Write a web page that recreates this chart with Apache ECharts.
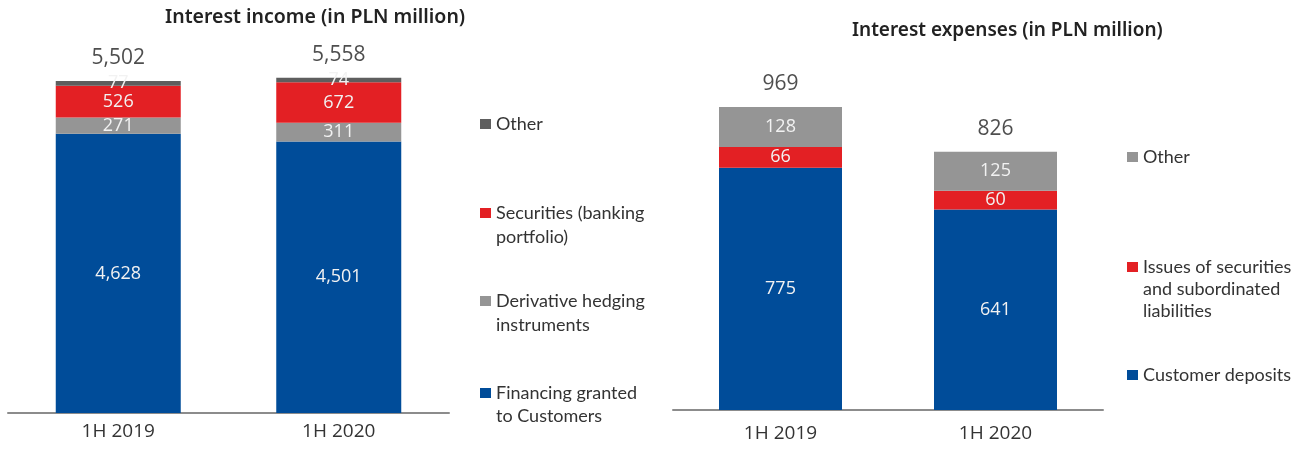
<!DOCTYPE html>
<html>
<head>
<meta charset="utf-8">
<script src="https://cdn.jsdelivr.net/npm/echarts@6/dist/echarts.min.js"></script>
<style>
  html, body { margin: 0; padding: 0; background: #fff; }
  #chart { width: 1304px; height: 450px; }
</style>
</head>
<body>
<div id="chart"></div>
<script>
// Interest income, PLN million
const incomeCategories = ['1H 2019', '1H 2020'];
const incomeFinancing = [4628, 4501];
const incomeDerivative = [271, 311];
const incomeSecurities = [526, 672];
const incomeOther = [77, 74];
const incomeTotal = [5502, 5558];

// Interest expenses, PLN million
const expenseCategories = ['1H 2019', '1H 2020'];
const expenseDeposits = [775, 641];
const expenseIssues = [66, 60];
const expenseOther = [128, 125];
const expenseTotal = [969, 826];

// Legend texts (line-broken as displayed)
const legendText = {
  incOther: 'Other',
  incSecurities: 'Securities (banking\nportfolio)',
  incDerivative: 'Derivative hedging\ninstruments',
  incFinancing: 'Financing granted\nto Customers',
  expOther: 'Other',
  expIssues: 'Issues of securities\nand subordinated\nliabilities',
  expDeposits: 'Customer deposits'
};

const BLUE = '#004c99';
const RED = '#e32024';
const GREY = '#959595';
const DARK = '#5e5e5e';
const NUM_FONT = '"Open Sans", "Noto Sans", sans-serif';
const TXT_FONT = 'Lato, "Noto Sans", sans-serif';
const TITLE_FONT = '"Noto Sans", sans-serif';

const fmt = v => v.toLocaleString('en-US');

function segment(name, data, color, gridIdx, width) {
  return {
    name: name,
    type: 'bar',
    stack: 'g' + gridIdx,
    xAxisIndex: gridIdx,
    yAxisIndex: gridIdx,
    barWidth: width,
    data: data,
    itemStyle: { color: color },
    label: {
      show: true,
      position: 'inside',
      color: '#f2f2f2',
      fontSize: 18,
      fontFamily: NUM_FONT,
      formatter: p => fmt(p.value)
    },
    emphasis: { disabled: true }
  };
}

function totals(data, gridIdx) {
  return {
    type: 'scatter',
    xAxisIndex: gridIdx,
    yAxisIndex: gridIdx,
    data: data,
    symbolSize: 1,
    itemStyle: { color: 'rgba(0,0,0,0)' },
    label: {
      show: true,
      position: 'top',
      distance: 12,
      color: '#222',
      fontSize: 21,
      fontFamily: NUM_FONT,
      formatter: p => fmt(p.value)
    },
    silent: true,
    z: 5
  };
}

// One legend box per entry. Blank lines are prepended so that the first
// text line sits level with the square marker.
function legendItem(name, left, yCenter, lineH) {
  const lines = legendText[name].split('\n').length;
  const prefix = '\n'.repeat(lines - 1);
  return {
    data: [name],
    left: left,
    top: yCenter - (2 * lines - 1) * lineH / 2,
    padding: 0,
    orient: 'vertical',
    icon: 'rect',
    itemWidth: 11,
    itemHeight: 10,
    selectedMode: false,
    formatter: n => prefix + legendText[n],
    textStyle: {
      color: '#333',
      fontSize: 18,
      fontFamily: TXT_FONT,
      lineHeight: lineH
    }
  };
}

const axisCommon = (gridIdx, data, margin) => ({
  type: 'category',
  gridIndex: gridIdx,
  data: data,
  axisLine: { lineStyle: { color: '#8c8c8c', width: 2 } },
  axisTick: { show: false },
  axisLabel: { color: '#333', fontSize: 19, fontFamily: NUM_FONT, margin: margin }
});

const chart = echarts.init(document.getElementById('chart'), null, { renderer: 'canvas' });
chart.setOption({
  animation: false,
  backgroundColor: '#fff',
  title: [
    {
      text: 'Interest income (in PLN million)',
      left: 165, top: 7, padding: 0,
      textStyle: { fontSize: 19.5, fontWeight: 600, color: '#222', fontFamily: TITLE_FONT }
    },
    {
      text: 'Interest expenses (in PLN million)',
      left: 852, top: 21, padding: 0,
      textStyle: { fontSize: 19, fontWeight: 600, color: '#222', fontFamily: TITLE_FONT }
    }
  ],
  legend: [
    legendItem('incOther', 480, 124, 24),
    legendItem('incSecurities', 480, 213, 24),
    legendItem('incDerivative', 480, 301, 24),
    legendItem('incFinancing', 480, 393, 23),
    legendItem('expOther', 1127, 157, 22),
    legendItem('expIssues', 1127, 267, 22),
    legendItem('expDeposits', 1127, 375, 22)
  ],
  grid: [
    { left: 8, width: 441, top: 51, height: 362 },
    { left: 673, width: 430, top: 97.3, height: 312.7 }
  ],
  xAxis: [
    axisCommon(0, incomeCategories, 9),
    axisCommon(1, expenseCategories, 14)
  ],
  yAxis: [
    { type: 'value', gridIndex: 0, min: 0, max: 6000, show: false },
    { type: 'value', gridIndex: 1, min: 0, max: 1000, show: false }
  ],
  series: [
    segment('incFinancing', incomeFinancing, BLUE, 0, 125),
    segment('incDerivative', incomeDerivative, GREY, 0, 125),
    segment('incSecurities', incomeSecurities, RED, 0, 125),
    segment('incOther', incomeOther, DARK, 0, 125),
    totals(incomeTotal, 0),
    segment('expDeposits', expenseDeposits, BLUE, 1, 123),
    segment('expIssues', expenseIssues, RED, 1, 123),
    segment('expOther', expenseOther, GREY, 1, 123),
    totals(expenseTotal, 1)
  ]
});
</script>
</body>
</html>
